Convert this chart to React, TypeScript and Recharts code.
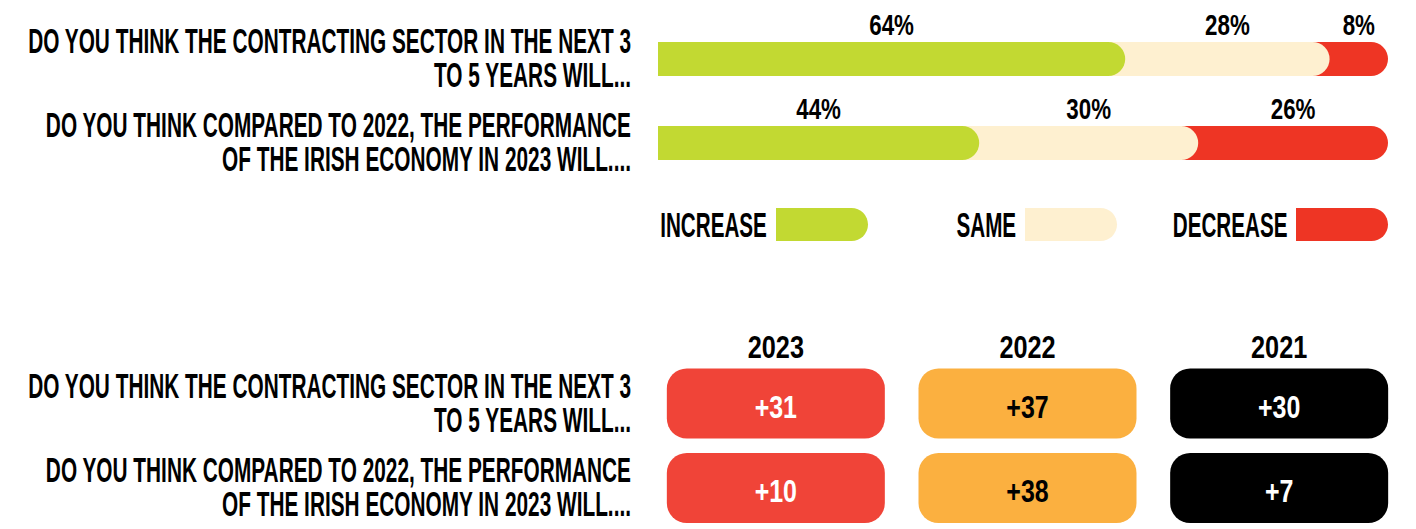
import React from 'react';
import { BarChart, Bar, XAxis, YAxis, Legend, Rectangle, ScatterChart, Scatter } from 'recharts';

// ---------- data ----------
const QUESTIONS = [
  'DO YOU THINK THE CONTRACTING SECTOR IN THE NEXT 3\nTO 5 YEARS WILL...',
  'DO YOU THINK COMPARED TO 2022, THE PERFORMANCE\nOF THE IRISH ECONOMY IN 2023 WILL....',
];
const INCREASE = [64, 44];
const SAME = [28, 30];
const DECREASE = [8, 26];

const YEARS = ['2023', '2022', '2021'];
const NET_2023 = [31, 10];
const NET_2022 = [37, 38];
const NET_2021 = [30, 7];

const LEGEND_NAMES = ['INCREASE', 'SAME', 'DECREASE'];

// ---------- styles ----------
const FONT = '"Liberation Sans", Arial, sans-serif';
const GREEN = '#C2D932';
const BEIGE = '#FEF0D0';
const RED = '#EE3524';
const LEGEND_COLORS = [GREEN, BEIGE, RED];
const LEGEND_RIGHT = [868, 1117, 1388];
const BOX_FILLS = ['#F04438', '#FBB040', '#000000'];
const BOX_TEXT = ['#FFFFFF', '#000000', '#FFFFFF'];

const topData = QUESTIONS.map((q, i) => ({
  q,
  increase: INCREASE[i],
  same: SAME[i],
  decrease: DECREASE[i],
  cumSame: INCREASE[i] + SAME[i],
  cumDecrease: INCREASE[i] + SAME[i] + DECREASE[i],
}));

const NETS = [NET_2023, NET_2022, NET_2021];
const netSeries = YEARS.map((year, s) => QUESTIONS.map((q, i) => ({ year, q, v: NETS[s][i] })));

const QuestionTick = (props: any) => {
  const { x, y, payload } = props;
  const lines = String(payload.value).split('\n');
  return (
    <text
      transform={`translate(${x},${y - 6}) scale(0.595,1)`}
      textAnchor="end"
      fontFamily={FONT}
      fontWeight={700}
      fontSize={35}
      fill="#000"
    >
      {lines.map((line, i) => (
        <tspan key={i} x={0} dy={i === 0 ? 0 : 34.5}>
          {line}
        </tspan>
      ))}
    </text>
  );
};

const YearTick = (props: any) => {
  const { x, y, payload } = props;
  return (
    <text
      transform={`translate(${x},${y}) scale(0.79,1)`}
      textAnchor="middle"
      fontFamily={FONT}
      fontWeight={700}
      fontSize={32}
      fill="#000"
    >
      {payload.value}
    </text>
  );
};

const segShape = (color: string, segKey: string, cumKey: string) => (p: any) => {
  const { x, y, width, height, payload } = p;
  const cum = payload[cumKey];
  const seg = payload[segKey];
  const cx = x + (width * (cum - seg / 2)) / cum;
  return (
    <g>
      <Rectangle x={x} y={y} width={width} height={height} fill={color} radius={[0, height / 2, height / 2, 0]} />
      <text
        transform={`translate(${cx},${y - 7}) scale(0.77,1)`}
        textAnchor="middle"
        fontFamily={FONT}
        fontWeight={700}
        fontSize={29}
        fill="#000"
      >
        {seg}%
      </text>
    </g>
  );
};

const boxShape = (s: number) => (p: any) => {
  const { cx, cy, payload } = p;
  return (
    <g>
      <rect x={cx - 109} y={cy - 35} width={218} height={70} rx={20} ry={20} fill={BOX_FILLS[s]} />
      <text
        transform={`translate(${cx},${cy + 14}) scale(0.78,1)`}
        textAnchor="middle"
        fontFamily={FONT}
        fontWeight={700}
        fontSize={32}
        fill={BOX_TEXT[s]}
      >
        {'+' + payload.v}
      </text>
    </g>
  );
};

const LegendContent = () => (
  <div style={{ position: 'relative', width: 1416, height: 60 }}>
    {LEGEND_NAMES.map((name, i) => (
      <div
        key={name}
        style={{
          position: 'absolute',
          right: 1416 - LEGEND_RIGHT[i],
          top: 0,
          height: 60,
          display: 'flex',
          alignItems: 'center',
        }}
      >
        <span
          style={{
            display: 'inline-block',
            transform: 'scaleX(0.59)',
            transformOrigin: 'right center',
            fontFamily: FONT,
            fontWeight: 700,
            fontSize: 35,
            lineHeight: '35px',
            color: '#000',
            marginRight: 9,
            whiteSpace: 'nowrap',
          }}
        >
          {name}
        </span>
        <div
          style={{
            width: 92,
            height: 33,
            background: LEGEND_COLORS[i],
            borderRadius: '0 16.5px 16.5px 0',
          }}
        />
      </div>
    ))}
  </div>
);

export default function App() {
  return (
    <div style={{ position: 'absolute', left: 0, top: 0, width: 1416, height: 529, overflow: 'hidden', background: '#fff' }}>
      <div style={{ position: 'absolute', left: 0, top: 0 }}>
        <BarChart
          width={1416}
          height={260}
          layout="vertical"
          data={topData}
          margin={{ top: 17, right: 28, bottom: 15, left: 0 }}
          barGap={-34}
          barSize={34}
        >
          <XAxis type="number" domain={[0, 100]} hide />
          <YAxis
            type="category"
            dataKey="q"
            width={658}
            axisLine={false}
            tickLine={false}
            tickSize={0}
            tickMargin={27}
            tick={QuestionTick}
          />
          <Legend content={LegendContent} wrapperStyle={{ left: 0, top: 194, width: 1416, height: 60 }} />
          <Bar dataKey="cumDecrease" fill={RED} isAnimationActive={false} shape={segShape(RED, 'decrease', 'cumDecrease')} />
          <Bar dataKey="cumSame" fill={BEIGE} isAnimationActive={false} shape={segShape(BEIGE, 'same', 'cumSame')} />
          <Bar dataKey="increase" fill={GREEN} isAnimationActive={false} shape={segShape(GREEN, 'increase', 'increase')} />
        </BarChart>
      </div>
      <div style={{ position: 'absolute', left: 0, top: 290 }}>
        <ScatterChart width={1416} height={245} margin={{ top: 41.25, right: 11, bottom: 4.75, left: 0 }}>
          <XAxis
            type="category"
            dataKey="year"
            orientation="top"
            height={30}
            axisLine={false}
            tickLine={false}
            tickSize={0}
            tickMargin={3}
            allowDuplicatedCategory={false}
            tick={YearTick}
          />
          <YAxis
            type="category"
            dataKey="q"
            width={650}
            axisLine={false}
            tickLine={false}
            tickSize={0}
            tickMargin={19}
            allowDuplicatedCategory={false}
            reversed
            tick={QuestionTick}
          />
          {netSeries.map((data, s) => (
            <Scatter key={YEARS[s]} data={data} isAnimationActive={false} shape={boxShape(s)} />
          ))}
        </ScatterChart>
      </div>
    </div>
  );
}
